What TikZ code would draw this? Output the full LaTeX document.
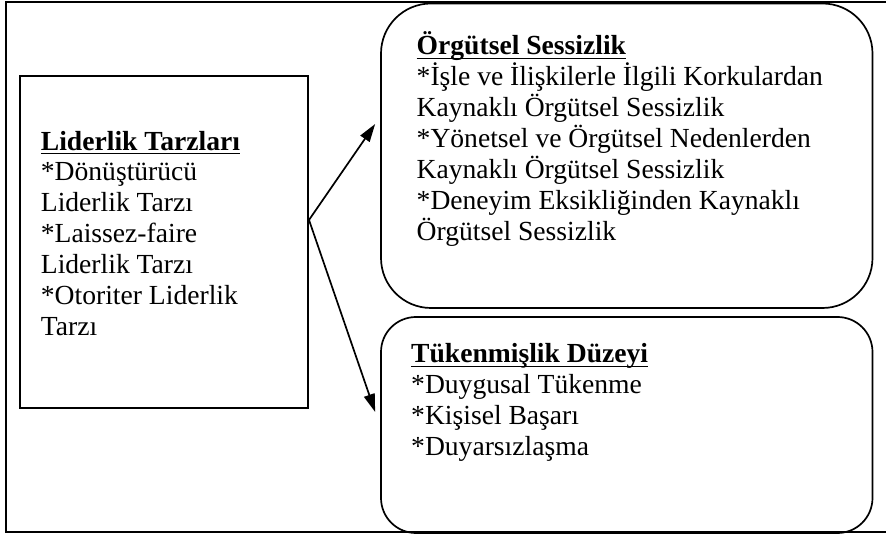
\documentclass[tikz,border=0pt]{standalone}
\usepackage{fontspec}
\setmainfont{Liberation Serif}
\usetikzlibrary{arrows.meta,calc}

% underlined heading with a rule at a fixed depth
\newsavebox{\headbox}
\newcommand{\uhead}[1]{\sbox{\headbox}{\textbf{#1}}\rlap{\rule[-4.4pt]{\wd\headbox}{1.6pt}}\usebox{\headbox}}

\tikzset{
  frameline/.style={line width=2.2pt},
  plainbox/.style={draw, line width=2pt, inner sep=0pt},
  roundbox/.style={draw, line width=1.7pt, inner sep=0pt, minimum width=491.5pt},
  % base west = baseline of the last line
  boxtext/.style={anchor=base west, align=left, inner sep=0pt, font=\fontsize{27.6pt}{30.9pt}\selectfont},
  linkarrow/.style={line width=1.7pt, -{Triangle[length=18pt,width=11pt]}}
}

\begin{document}
\begin{tikzpicture}[x=1pt,y=-1pt]
  \useasboundingbox (0,0) rectangle (886,534);
  \fill[white] (0,0) rectangle (886,534);
  % outer frame
  \draw[frameline] (888,2) -- (6,2) -- (6,532) -- (888,532);

  % boxes
  \node[plainbox, minimum width=288pt, minimum height=332pt] (lider) at (164,242) {};
  \node[roundbox, rounded corners=50pt, minimum height=304.5pt] (orgut) at (626.75,155.75) {};
  \node[roundbox, rounded corners=35pt, minimum height=216pt] (tuken) at (626.75,425) {};

  % texts
  \node[boxtext] (liderText) at (40.7,335.5) {\uhead{Liderlik Tarzları}\\
    *Dönüştürücü\\ Liderlik Tarzı\\ *Laissez-faire\\ Liderlik Tarzı\\
    *Otoriter Liderlik\\ Tarzı};
  \node[boxtext] (orgutText) at (416.5,240.3) {\uhead{Örgütsel Sessizlik}\\
    *İşle ve İlişkilerle İlgili Korkulardan\\ Kaynaklı Örgütsel Sessizlik\\
    *Yönetsel ve Örgütsel Nedenlerden\\ Kaynaklı Örgütsel Sessizlik\\
    *Deneyim Eksikliğinden Kaynaklı\\ Örgütsel Sessizlik};
  \node[boxtext] (tukenText) at (411,455.4) {\uhead{Tükenmişlik Düzeyi}\\
    *Duygusal Tükenme\\ *Kişisel Başarı\\ *Duyarsızlaşma};

  % arrows
  \coordinate (split) at ($(lider.north east)!0.434!(lider.south east)$);
  \coordinate (tipTop) at ([xshift=-5pt]orgut.west |- 0,124);
  \coordinate (tipBottom) at ([xshift=-5pt]tuken.west |- 0,412);
  \draw[linkarrow] (split) -- (tipTop);
  \draw[linkarrow] (split) -- (tipBottom);
\end{tikzpicture}
\end{document}
